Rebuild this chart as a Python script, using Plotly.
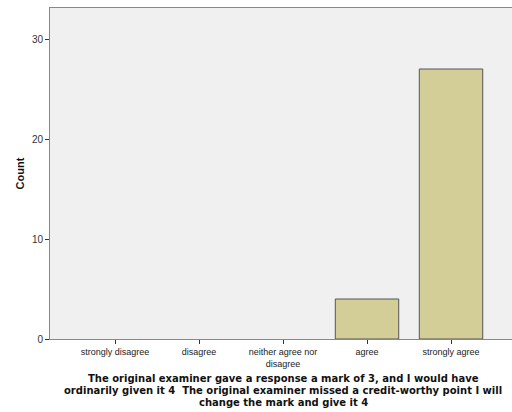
import plotly.graph_objects as go

categories = ["strongly disagree", "disagree", "neither agree nor<br>disagree", "agree", "strongly agree"]
counts = [0, 0, 0, 4, 27]
title_lines = [
    "The original examiner gave a response a mark of 3, and I would have",
    "ordinarily given it 4  The original examiner missed a credit-worthy point I will",
    "change the mark and give it 4",
]

FONT = "Arial, Liberation Sans, sans-serif"
TITLE_FONT = "DejaVu Sans, Verdana, sans-serif"

fig = go.Figure()
fig.add_trace(go.Bar(
    x=list(range(len(categories))),
    y=counts,
    width=0.755,
    marker=dict(color="#D3CE98",
                line=dict(color="#555555", width=[1 if v else 0 for v in counts])),
    hoverinfo="skip",
))

fig.update_layout(
    width=512, height=412,
    margin=dict(l=50, r=0, t=8, b=73),
    paper_bgcolor="white",
    plot_bgcolor="#F0F0F0",
    showlegend=False,
    font=dict(family=FONT, color="#222222"),
    xaxis=dict(
        range=[-0.774, 4.726],
        tickmode="array",
        tickvals=list(range(len(categories))),
        ticktext=categories,
        ticks="outside", ticklen=4, tickcolor="#333333",
        tickfont=dict(size=9, color="#222222"),
        showline=True, linecolor="#888888", linewidth=1, mirror=True,
        showgrid=False, zeroline=False,
    ),
    yaxis=dict(
        range=[0, 33.1],
        tickvals=[0, 10, 20, 30],
        ticks="outside", ticklen=4, tickcolor="#333333",
        tickfont=dict(size=10, color="#333333"),
        showline=True, linecolor="#888888", linewidth=1,
        showgrid=False, zeroline=False,
        title=dict(text="<b>Count</b>", font=dict(size=11, color="#111111"), standoff=5),
    ),
)

for i, line in enumerate(title_lines):
    fig.add_annotation(
        text="<b>" + line + "</b>",
        xref="paper", yref="paper",
        x=(283 - 50) / 462, xanchor="center",
        y=-(378.5 + 12 * i - 339) / 331, yanchor="middle",
        showarrow=False,
        font=dict(size=10, family=TITLE_FONT, color="#111111"),
    )

fig.write_html("out.html",
               config={"displayModeBar": False},
               post_script="document.body.style.margin='0';document.body.style.overflow='hidden';")
